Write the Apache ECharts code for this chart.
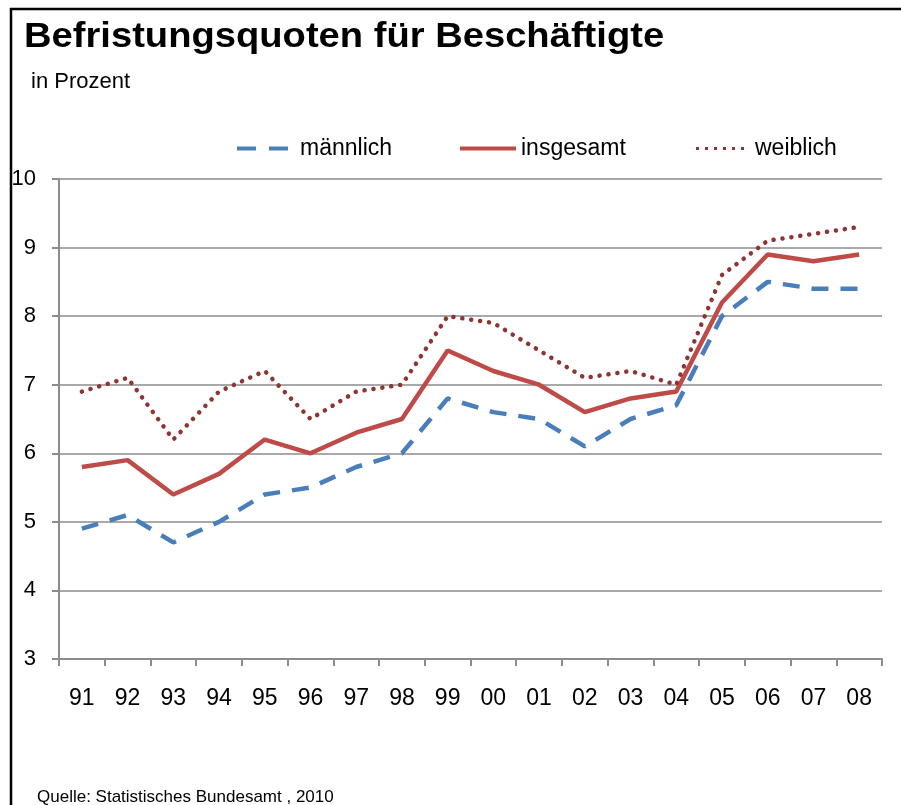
<!DOCTYPE html>
<html>
<head>
<meta charset="utf-8">
<script src="https://cdn.jsdelivr.net/npm/echarts@6/dist/echarts.min.js"></script>
<style>
  html, body { margin: 0; padding: 0; background: #fff; }
  #chart { width: 901px; height: 805px; }
</style>
</head>
<body>
<div id="chart"></div>
<script>
// Jahre (1991 - 2008)
var years = ['91', '92', '93', '94', '95', '96', '97', '98', '99', '00', '01', '02', '03', '04', '05', '06', '07', '08'];
// Befristungsquoten in Prozent
var maennlich = [4.9, 5.1, 4.7, 5.0, 5.4, 5.5, 5.8, 6.0, 6.8, 6.6, 6.5, 6.1, 6.5, 6.7, 8.0, 8.5, 8.4, 8.4];
var insgesamt = [5.8, 5.9, 5.4, 5.7, 6.2, 6.0, 6.3, 6.5, 7.5, 7.2, 7.0, 6.6, 6.8, 6.9, 8.2, 8.9, 8.8, 8.9];
var weiblich = [6.9, 7.1, 6.2, 6.9, 7.2, 6.5, 6.9, 7.0, 8.0, 7.9, 7.5, 7.1, 7.2, 7.0, 8.6, 9.1, 9.2, 9.3];

var font = 'Arial, "Liberation Sans", sans-serif';
var gridColor = '#8c8c8c';

var myChart = echarts.init(document.getElementById('chart'));

// eine Legende pro Reihe, damit die Positionen wie im Original sitzen
function legendAt(name, icon, left, width, height, gap) {
  return {
    data: [{ name: name, icon: icon }],
    left: left,
    top: 132,
    itemWidth: width,
    itemHeight: height,
    textStyle: { fontFamily: font, fontSize: 23, color: '#000', padding: [0, 0, 0, gap] }
  };
}

myChart.setOption({
  backgroundColor: '#fff',
  animation: false,
  graphic: [
    // Rahmen oben und links
    { type: 'line', shape: { x1: 10, y1: 9, x2: 901, y2: 9 }, style: { stroke: '#000', lineWidth: 2.5 } },
    { type: 'line', shape: { x1: 11, y1: 8, x2: 11, y2: 805 }, style: { stroke: '#000', lineWidth: 2.5 } },
    { type: 'text', x: 24, y: 20, scaleX: 1.09, style: { text: 'Befristungsquoten für Beschäftigte', fontFamily: font, fontSize: 35, fontWeight: 'bold', fill: '#000' } },
    { type: 'text', left: 31, top: 71, style: { text: 'in Prozent', fontFamily: font, fontSize: 22, fill: '#000' } },
    { type: 'text', left: 37, top: 789, style: { text: 'Quelle: Statistisches Bundesamt , 2010', fontFamily: font, fontSize: 17, fill: '#000' } }
  ],
  legend: [
    legendAt('männlich', 'path://M0,0H19V4H0Z M32,0H51V4H32Z', 232, 51, 4, 7),
    legendAt('insgesamt', 'path://M0,0H56V4H0Z', 455, 56, 4, 0),
    legendAt('weiblich', 'path://M0,0H3V3H0Z M9,0H12V3H9Z M18,0H21V3H18Z M27,0H30V3H27Z M36,0H39V3H36Z M45,0H48V3H45Z', 691, 48, 3, 6)
  ],
  grid: { left: 59, right: 19, top: 179, bottom: 146 },
  xAxis: {
    type: 'category',
    data: years,
    boundaryGap: true,
    axisLine: { lineStyle: { color: gridColor, width: 2 } },
    axisTick: { show: true, length: 7, lineStyle: { color: gridColor, width: 2 } },
    axisLabel: { color: '#000', fontFamily: font, fontSize: 23, margin: 28 }
  },
  yAxis: {
    type: 'value',
    min: 3,
    max: 10,
    interval: 1,
    axisLine: { show: true, lineStyle: { color: gridColor, width: 2 } },
    axisTick: { show: true, length: 7, lineStyle: { color: gridColor, width: 2 } },
    axisLabel: { color: '#000', fontFamily: font, fontSize: 22, margin: 23 },
    splitLine: { lineStyle: { color: gridColor, width: 1.5 } }
  },
  series: [
    {
      name: 'männlich',
      type: 'line',
      data: maennlich,
      symbol: 'none',
      color: '#4A7EBB',
      lineStyle: { color: '#4A7EBB', width: 4.5, type: [17, 12] }
    },
    {
      name: 'insgesamt',
      type: 'line',
      data: insgesamt,
      symbol: 'none',
      color: '#BE4B48',
      lineStyle: { color: '#BE4B48', width: 4.5 }
    },
    {
      name: 'weiblich',
      type: 'line',
      data: weiblich,
      symbol: 'none',
      color: '#8E3432',
      lineStyle: { color: '#8E3432', width: 4.5, type: [0.1, 8.9], cap: 'round' }
    }
  ]
});
</script>
</body>
</html>
